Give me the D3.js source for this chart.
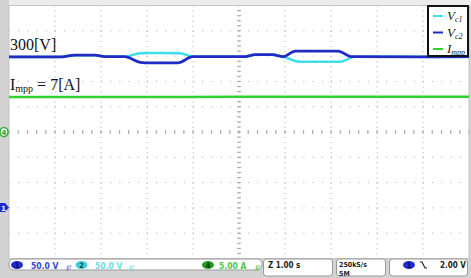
<!DOCTYPE html>
<html>
<head>
<meta charset="utf-8">
<script src="https://cdn.jsdelivr.net/npm/d3@7"></script>
<style>
  body { margin: 0; background: #fff; }
  svg { display: block; }
</style>
</head>
<body>
<script>
// time in seconds (1.00 s/div, 10 divisions)
const vc2Time = [0, 1.1, 1.43, 1.87, 2.09, 2.52, 2.85, 3.07, 3.67, 4.0, 5.13, 5.35, 5.72, 5.96, 6.22, 7.15, 7.46, 8.93, 10];
const vc2Volts = [297.5, 297.5, 301, 301, 298, 298, 287, 286, 286, 298, 298, 302, 302, 298, 309, 309, 298, 297.5, 298];
const vc1Time = [0, 1.1, 1.43, 1.87, 2.09, 2.52, 2.85, 3.07, 3.72, 4.0, 5.13, 5.35, 5.72, 5.96, 6.33, 7.2, 7.52, 10];
const vc1Volts = [297.5, 297.5, 301, 301, 298, 298, 305, 305.5, 305, 298, 298, 302, 302, 298, 288, 288, 298, 297.5];
const impTime = [0, 2.5, 5, 7.5, 10];
const impAmps = [6.9, 6.9, 6.95, 6.95, 6.95];

const legendNames = [["V", "c1"], ["V", "c2"], ["I", "mpp"]];
const traceColors = ["#3fdde6", "#1f2bc4", "#2fd22f"];

const W = 471, H = 278;
const svg = d3.select("body").append("svg").attr("width", W).attr("height", H);

// screen area
const scrL = 9, scrR = 469, scrT = 5.5, scrB = 258.5;
const x = d3.scaleLinear().domain([0, 10]).range([scrL, scrR]);
const divY = (scrB - scrT) / 10;
// ch1/ch2: 50 V/div, ground marker at y = 207.5
const yV = d3.scaleLinear().domain([0, 50]).range([207.5, 207.5 - divY]);
// ch4: 5 A/div, ground at centre
const yI = d3.scaleLinear().domain([0, 5]).range([132, 132 - divY]);
const gy = d3.scaleLinear().domain([0, 10]).range([scrT, scrB]);

// background strips
svg.append("rect").attr("width", W).attr("height", H).attr("fill", "#d3d3d3");
svg.append("rect").attr("x", scrL).attr("y", 0).attr("width", W - scrL).attr("height", scrT).attr("fill", "#ececec");
svg.append("rect").attr("x", scrL).attr("y", scrT).attr("width", scrR - scrL).attr("height", scrB - scrT).attr("fill", "#fff");

// grid
const grid = svg.append("g").attr("stroke", "#a8a8a8").attr("stroke-width", 1);
d3.range(1, 10).forEach(i => {
  grid.append("line").attr("x1", x(i)).attr("x2", x(i)).attr("y1", scrT).attr("y2", scrB)
    .attr("stroke-dasharray", "1," + (divY / 5 - 1));
  grid.append("line").attr("x1", scrL).attr("x2", scrR).attr("y1", gy(i)).attr("y2", gy(i))
    .attr("stroke-dasharray", "1," + ((scrR - scrL) / 50 - 1));
});
// centre axes minor ticks
d3.range(0, 50.01, 1).forEach(i => {
  const xx = scrL + i * (scrR - scrL) / 50;
  grid.append("line").attr("x1", xx).attr("x2", xx).attr("y1", gy(5) - 2).attr("y2", gy(5) + 2);
  const yy = scrT + i * divY / 5;
  grid.append("line").attr("x1", x(5) - 2).attr("x2", x(5) + 2).attr("y1", yy).attr("y2", yy);
});
svg.append("rect").attr("x", scrL).attr("y", scrT).attr("width", scrR - scrL).attr("height", scrB - scrT)
  .attr("fill", "none").attr("stroke", "#c4c4c4");

// traces
const lineV = d3.line().x(d => x(d[0])).y(d => yV(d[1])).curve(d3.curveMonotoneX);
const lineI = d3.line().x(d => x(d[0])).y(d => yI(d[1])).curve(d3.curveMonotoneX);
svg.append("path").datum(d3.zip(impTime, impAmps)).attr("d", lineI)
  .attr("fill", "none").attr("stroke", traceColors[2]).attr("stroke-width", 2.5);
svg.append("path").datum(d3.zip(vc1Time, vc1Volts)).attr("d", lineV)
  .attr("fill", "none").attr("stroke", traceColors[0]).attr("stroke-width", 2.5);
svg.append("path").datum(d3.zip(vc2Time, vc2Volts)).attr("d", lineV)
  .attr("fill", "none").attr("stroke", traceColors[1]).attr("stroke-width", 2.8);

// annotations
const serif = "'Liberation Serif', 'DejaVu Serif', serif";
svg.append("text").attr("x", 10).attr("y", 50).attr("font-family", serif).attr("font-size", 16)
  .attr("fill", "#111").text("300[V]");
const ann = svg.append("text").attr("x", 10).attr("y", 90).attr("font-family", serif).attr("font-size", 16).attr("fill", "#111");
ann.append("tspan").text("I");
ann.append("tspan").attr("font-size", 10).attr("dy", 2).text("mpp");
ann.append("tspan").attr("dy", -2).text(" = 7[A]");

// legend
const lg = svg.append("g").attr("transform", "translate(428,6)");
lg.append("rect").attr("width", 40).attr("height", 50).attr("fill", "#fff").attr("stroke", "#111").attr("stroke-width", 2);
legendNames.forEach((n, i) => {
  const yy = 10 + i * 16.5;
  lg.append("line").attr("x1", 5).attr("x2", 15).attr("y1", yy).attr("y2", yy)
    .attr("stroke", traceColors[i]).attr("stroke-width", 2);
  const t = lg.append("text").attr("x", 19).attr("y", yy + 4).attr("font-family", serif)
    .attr("font-style", "italic").attr("font-size", 13).attr("fill", "#222");
  t.append("tspan").text(n[0]);
  t.append("tspan").attr("font-size", 8).attr("dy", 2).text(n[1]);
});

// channel markers on the left
const mk4 = svg.append("g").attr("transform", "translate(4," + yI(0) + ")");
mk4.append("ellipse").attr("rx", 4).attr("ry", 4.5).attr("fill", "#fff").attr("stroke", "#2fb02f").attr("stroke-width", 1.5);
mk4.append("text").attr("y", 3).attr("text-anchor", "middle").attr("font-family", "DejaVu Sans").attr("font-size", 7)
  .attr("font-weight", "bold").attr("fill", "#2a9a2a").text("4");
const mk1 = svg.append("g").attr("transform", "translate(0," + yV(0) + ")");
mk1.append("path").attr("d", "M0,-4.5 L5,-4.5 L9,0 L5,4.5 L0,4.5 Z").attr("fill", "#1f2bd0");
mk1.append("text").attr("x", 3.5).attr("y", 3).attr("text-anchor", "middle").attr("font-family", "DejaVu Sans").attr("font-size", 7)
  .attr("font-weight", "bold").attr("fill", "#fff").text("1");

// bottom readout bar
const sans = "'DejaVu Sans Condensed', 'DejaVu Sans', sans-serif";
const bar = svg.append("g");
bar.append("rect").attr("x", 9).attr("y", 259).attr("width", 253).attr("height", 11).attr("rx", 5)
  .attr("fill", "#fff").attr("stroke", "#9a9a9a");
function chanBadge(cx, label, fill, txtColor) {
  bar.append("ellipse").attr("cx", cx).attr("cy", 265).attr("rx", 6).attr("ry", 4).attr("fill", fill);
  bar.append("text").attr("x", cx).attr("y", 268).attr("text-anchor", "middle").attr("font-family", sans)
    .attr("font-size", 7.5).attr("font-weight", "bold").attr("fill", txtColor).text(label);
}
function readout(xx, yy, str, color, size) {
  bar.append("text").attr("x", xx).attr("y", yy).attr("font-family", sans).attr("font-size", size || 8.5)
    .attr("font-weight", "bold").attr("fill", color).text(str);
}
chanBadge(17, "1", "#1f2bd0", "#0a0a60");
readout(31, 268.5, "50.0 V", "#3a46d0");
readout(66, 268.5, "\u2118", "#6a72d8");
chanBadge(81.5, "2", "#3fd0dc", "#0a4a50");
readout(95, 268.5, "50.0 V", "#6fdde6");
readout(129, 268.5, "\u2118", "#6fdde6");
chanBadge(208, "4", "#1e9e1e", "#063806");
readout(219, 268.5, "5.00 A", "#4cc84c");
readout(255, 268.5, "\u2118", "#4cc84c");

bar.append("rect").attr("x", 263.5).attr("y", 259).attr("width", 69).attr("height", 17).attr("rx", 3)
  .attr("fill", "#fff").attr("stroke", "#9a9a9a");
readout(268, 267.5, "Z 1.00 s", "#222", 8);
bar.append("rect").attr("x", 336.5).attr("y", 259).attr("width", 49).attr("height", 17).attr("rx", 3)
  .attr("fill", "#fff").attr("stroke", "#9a9a9a");
readout(339, 266.5, "250kS/s", "#222", 7);
readout(339, 275.5, "5M", "#222", 7);
bar.append("rect").attr("x", 389.5).attr("y", 259).attr("width", 78).attr("height", 17).attr("rx", 3)
  .attr("fill", "#fff").attr("stroke", "#9a9a9a");
bar.append("ellipse").attr("cx", 409).attr("cy", 265).attr("rx", 6).attr("ry", 4).attr("fill", "#1f2bd0");
bar.append("text").attr("x", 409).attr("y", 268).attr("text-anchor", "middle").attr("font-family", sans)
  .attr("font-size", 7.5).attr("font-weight", "bold").attr("fill", "#0a0a60").text("1");
bar.append("path").attr("d", "M420,262 L422,262 L425,268 L427,268").attr("fill", "none").attr("stroke", "#222").attr("stroke-width", 1.2);
readout(440, 268, "2.00 V", "#222", 8);
</script>
</body>
</html>
